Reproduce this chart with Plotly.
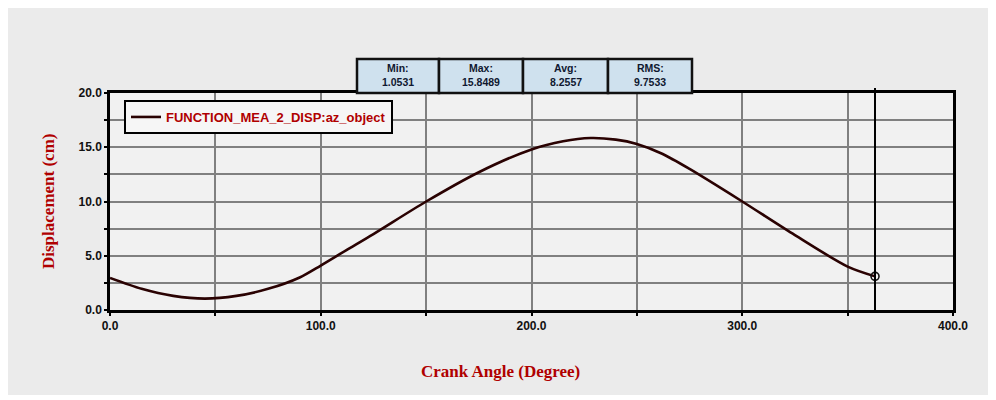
import plotly.graph_objects as go

# ---- data ----
crank_angle = [0, 15, 30, 45, 60, 75, 90, 100, 112, 125, 150, 175, 200, 215, 228, 240, 250, 262, 275, 300, 325, 350, 363]
displacement = [2.95, 1.95, 1.3, 1.05, 1.3, 1.95, 3.0, 4.1, 5.5, 7.0, 10.0, 12.7, 14.8, 15.55, 15.85, 15.7, 15.3, 14.4, 13.0, 10.0, 6.9, 4.0, 3.1]
series_name = "FUNCTION_MEA_2_DISP:az_object"

stat_labels = ["Min:", "Max:", "Avg:", "RMS:"]
stat_values = ["1.0531", "15.8489", "8.2557", "9.7533"]

x_ticks = [0, 50, 100, 150, 200, 250, 300, 350, 400]
x_ticktext = ["0.0", "", "100.0", "", "200.0", "", "300.0", "", "400.0"]
y_ticks = [0, 2.5, 5, 7.5, 10, 12.5, 15, 17.5, 20]
y_ticktext = ["0.0", "", "5.0", "", "10.0", "", "15.0", "", "20.0"]

# ---- layout (window pixel coords; page body has an 8px margin) ----
OFF = 8
PLOT_L, PLOT_R, PLOT_T, PLOT_B = 110, 953, 93, 310
GRAY_R, GRAY_B = 993, 395
W, H = GRAY_R - OFF, GRAY_B - OFF
L, T = PLOT_L - OFF, PLOT_T - OFF
R, B = GRAY_R - PLOT_R, GRAY_B - PLOT_B
PW, PH = PLOT_R - PLOT_L, PLOT_B - PLOT_T


def px(xp):
    return (xp - PLOT_L) / PW


def py(yp):
    return (PLOT_B - yp) / PH


line_color = "#2a0202"
title_red = "#b00000"

fig = go.Figure()
fig.add_trace(go.Scatter(
    x=crank_angle, y=displacement, mode="lines", name=series_name,
    line=dict(color=line_color, width=2.6, shape="spline", smoothing=0.8),
))
fig.add_trace(go.Scatter(
    x=[crank_angle[-1]], y=[displacement[-1]], mode="markers", showlegend=False,
    marker=dict(symbol="circle-open", size=8, color="#111111", line=dict(width=1.6)),
))

shapes = []
shapes.append(dict(type="line", xref="x", yref="paper", x0=crank_angle[-1], x1=crank_angle[-1],
                   y0=0, y1=py(88), line=dict(color="#000000", width=2)))

tab_edges = [357, 439, 523, 608, 692]
annotations = []
stat_font = dict(family="Liberation Sans", size=10.5, color="#101830", weight="bold")
for i in range(4):
    shapes.append(dict(type="rect", xref="paper", yref="paper",
                       x0=px(tab_edges[i]), x1=px(tab_edges[i + 1]), y0=py(93), y1=py(59),
                       fillcolor="#cfe1ee", line=dict(color="#111111", width=2.5)))
    xc = px((tab_edges[i] + tab_edges[i + 1]) / 2)
    annotations.append(dict(xref="paper", yref="paper", x=xc, y=py(68), text=stat_labels[i],
                            xanchor="center", yanchor="middle", showarrow=False, font=stat_font))
    annotations.append(dict(xref="paper", yref="paper", x=xc, y=py(82), text=stat_values[i],
                            xanchor="center", yanchor="middle", showarrow=False, font=stat_font))

annotations.append(dict(xref="paper", yref="paper", x=px(48), y=py(201), text="Displacement (cm)",
                        textangle=-90, xanchor="center", yanchor="middle", showarrow=False,
                        font=dict(family="Liberation Serif", size=17, color=title_red, weight="bold")))
annotations.append(dict(xref="paper", yref="paper", x=px(500), y=py(371), text="Crank Angle (Degree)",
                        xanchor="center", yanchor="middle", showarrow=False,
                        font=dict(family="Liberation Serif", size=17, color=title_red, weight="bold")))

axis_common = dict(
    showgrid=True, gridcolor="#808080", gridwidth=1.6,
    showline=True, linecolor="#000000", linewidth=2.5, mirror=True,
    ticks="outside", ticklen=3, tickwidth=2, tickcolor="#000000",
    zeroline=False,
    tickfont=dict(family="Liberation Sans", size=12, color="#111111", weight="bold"),
)

fig.update_layout(
    width=W, height=H,
    margin=dict(l=L, r=R, t=T, b=B),
    paper_bgcolor="#ebebeb", plot_bgcolor="#f1f1f1",
    xaxis=dict(range=[0, 400], tickmode="array", tickvals=x_ticks, ticktext=x_ticktext, **axis_common),
    yaxis=dict(range=[0, 20], tickmode="array", tickvals=y_ticks, ticktext=y_ticktext, **axis_common),
    showlegend=True,
    legend=dict(x=px(124), y=py(100), xanchor="left", yanchor="top",
                bgcolor="#f6f6f6", bordercolor="#000000", borderwidth=2,
                font=dict(family="Liberation Sans", size=13, color=title_red, weight="bold"),
                itemwidth=30, tracegroupgap=0),
    shapes=shapes, annotations=annotations,
)

fig.write_html("out.html")
